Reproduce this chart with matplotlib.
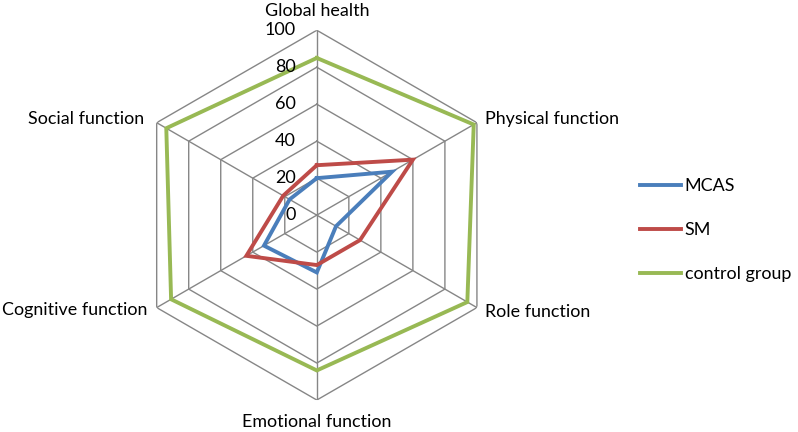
import numpy as np
import matplotlib.pyplot as plt

plt.rcParams['font.family'] = ['Lato', 'DejaVu Sans']

# categories, clockwise from the top
categories = ['Global health', 'Physical function', 'Role function',
              'Emotional function', 'Cognitive function', 'Social function']

# scores
mcas = [20, 47, 12, 31, 33, 17]
sm = [27, 60, 27, 27, 44, 21]
control = [85, 98, 94, 84, 91, 94]

ring_levels = [0, 20, 40, 60, 80, 100]
ring_labels = ['0', '20', '40', '60', '80', '100']

series = [('MCAS', mcas, '#4A7EBB'),
          ('SM', sm, '#BE4B48'),
          ('control group', control, '#98B954')]

grid_col = '#868686'
fs = 12.9

fig = plt.figure(figsize=(7.98, 4.32), dpi=100)
ax = fig.add_axes([0.165, 0.074, 0.464, 0.856], projection='polar')
ax.set_theta_offset(np.pi / 2)
ax.set_theta_direction(-1)
ax.set_ylim(0, 100)
ax.grid(False)
ax.spines['polar'].set_visible(False)
ax.set_xticks([])
ax.set_yticks([])

n = len(categories)
theta = np.linspace(0, 2 * np.pi, n, endpoint=False)
theta_c = np.append(theta, theta[0])

# hexagon grid
for lev in ring_levels[1:]:
    ax.plot(theta_c, [lev] * (n + 1), color=grid_col, lw=1.0, zorder=1)
for t in theta:
    ax.plot([t, t], [0, 100], color=grid_col, lw=1.0, zorder=1)

# data
for name, vals, col in series:
    ax.plot(theta_c, vals + vals[:1], color=col, lw=2.8, label=name,
            solid_joinstyle='miter', zorder=3)

# radial value labels along the top spoke
for lev, lab in zip(ring_levels, ring_labels):
    ax.annotate(lab, xy=(0, lev), xytext=(-15, 0), textcoords='offset points',
                ha='right', va='center', fontsize=13, color='#000000')

# category labels
offsets = [((0, 14), 'center', 'center'),
           ((6, 3), 'left', 'center'),
           ((6, -3), 'left', 'center'),
           ((0, -16), 'center', 'center'),
           ((-7, -2), 'right', 'center'),
           ((-9, 3), 'right', 'center')]
for t, cat, (off, ha, va) in zip(theta, categories, offsets):
    ax.annotate(cat, xy=(t, 100), xytext=off, textcoords='offset points',
                ha=ha, va=va, fontsize=fs, annotation_clip=False)

fig.legend(loc='center left', bbox_to_anchor=(640 / 798, 1 - 230 / 432),
           frameon=False, fontsize=fs, handlelength=2.3, handletextpad=0.2,
           labelspacing=1.55, borderpad=0, borderaxespad=0)

fig.savefig('out.png', dpi=100)
